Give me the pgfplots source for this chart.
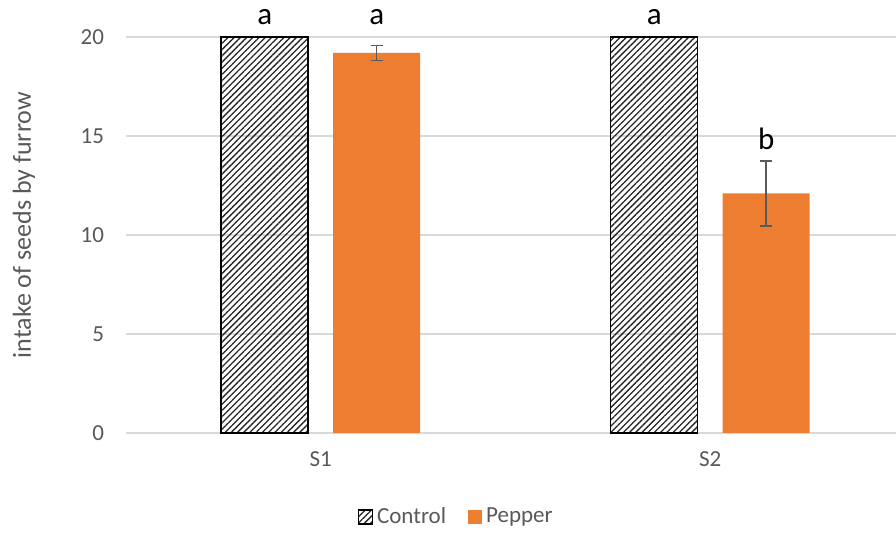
\documentclass[border=0pt]{standalone}
\usepackage{fontspec}
\setmainfont{Carlito}
\usepackage{pgfplots}
\pgfplotsset{compat=1.18}
\usetikzlibrary{patterns.meta}
\definecolor{pepper}{HTML}{ED7D31}
\definecolor{txtgray}{HTML}{595959}
\definecolor{gridgray}{HTML}{D9D9D9}
\definecolor{errgray}{HTML}{5A5A5A}
\pgfplotsset{
  ctrllegend/.style={legend image code/.code={\draw[##1] (0pt,-3.5pt) rectangle (7pt,3.5pt);}},
  peplegend/.style={legend image code/.code={\fill[pepper] (0pt,-3.5pt) rectangle (7pt,3.5pt);}},
}
\begin{document}
\begin{tikzpicture}
\begin{axis}[
  name=ax, at={(0,0)}, anchor=south west,
  scale only axis, width=385pt, height=198pt,
  xmin=-0.5, xmax=1.477, ymin=0, ymax=20,
  clip=false,
  xtick={0,1}, xticklabels={S1,S2},
  ytick={0,5,10,15,20},
  ymajorgrids, grid style={gridgray, line width=0.75pt},
  axis line style={draw=none},
  major tick length=0pt,
  tick label style={font=\fontsize{11.5}{13}\selectfont, text=txtgray},
  /pgf/number format/assume math mode=true,
  yticklabel style={xshift=-7.5pt},
  xticklabel style={yshift=-6pt},
  ylabel={intake of seeds by furrow},
  ylabel style={at={(axis description cs:-0.1325,0.525)}, anchor=center, font=\fontsize{13}{15}\selectfont, text=txtgray},
  legend columns=2,
  legend style={draw=none, at={(0.43,-0.212)}, anchor=center, font=\fontsize{11.5}{13}\selectfont, text=txtgray,
    /tikz/every even column/.append style={column sep=9pt}},
]
\addplot[ybar, bar width=0.2234, bar shift=0pt, draw=black, line width=0.75pt,
  pattern={Lines[angle=45,distance=2.2pt,line width=0.65pt]}, pattern color=black!85, ctrllegend]
  coordinates {(-0.1438,20) (0.8562,20)};
\addplot[ybar, bar width=0.2234, bar shift=0pt, fill=pepper, draw=none, peplegend,
  error bars/.cd, y dir=both, y explicit,
  error bar style={errgray, line width=0.75pt},
  error mark options={rotate=90, errgray, mark size=3pt, line width=0.75pt}]
  coordinates {(0.1438,19.2) +- (0,0.38) (1.1438,12.1) +- (0,1.64)};
\legend{Control,Pepper}
\node[font=\fontsize{15.5}{17}\selectfont, anchor=base] at (axis cs:-0.1438,20.65) {a};
\node[font=\fontsize{15.5}{17}\selectfont, anchor=base] at (axis cs:0.1438,20.65) {a};
\node[font=\fontsize{15.5}{17}\selectfont, anchor=base] at (axis cs:0.8562,20.65) {a};
\node[font=\fontsize{15.5}{17}\selectfont, anchor=base] at (axis cs:1.1438,14.3) {b};
\end{axis}
\pgfresetboundingbox
\useasboundingbox (-63pt,-50pt) rectangle (385pt,216.5pt);
\end{tikzpicture}
\end{document}
